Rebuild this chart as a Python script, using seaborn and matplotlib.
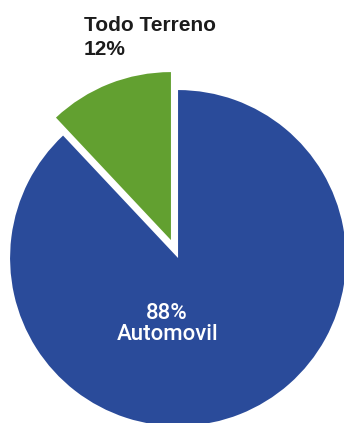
import matplotlib
matplotlib.use("Agg")
import matplotlib.pyplot as plt
import seaborn as sns

# datos
categorias = ["Todo Terreno", "Automovil"]
porcentajes = [12, 88]
colores = ["#62a030", "#2a4b9a"]
separacion = [0.115, 0.0]

sns.set_theme(style="white")
plt.rcParams["font.family"] = ["Liberation Sans", "DejaVu Sans"]

fig = plt.figure(figsize=(3.44, 4.23), dpi=100)
ax = fig.add_axes([0, 0, 1, 1])

wedges, _ = ax.pie(porcentajes, colors=colores, startangle=90, counterclock=True,
                   explode=separacion, radius=1.0,
                   wedgeprops={"linewidth": 0})

ax.set_xlim(-1.06, 0.988)
ax.set_ylim(-0.982, 1.536)
ax.set_aspect("equal")
ax.axis("off")

ax.text(-0.56, 1.315, f"{categorias[0]}\n{porcentajes[0]}%", fontsize=15,
        fontweight="bold", color="#1c1c1c", ha="left", va="center",
        linespacing=1.35)
ax.text(-0.065, -0.39, f"{porcentajes[1]}%\n{categorias[1]}", fontsize=16,
        family=["Roboto", "DejaVu Sans"], fontweight="medium",
        color="white", ha="center", va="center", linespacing=1.0)

fig.savefig("out.png", dpi=100)
